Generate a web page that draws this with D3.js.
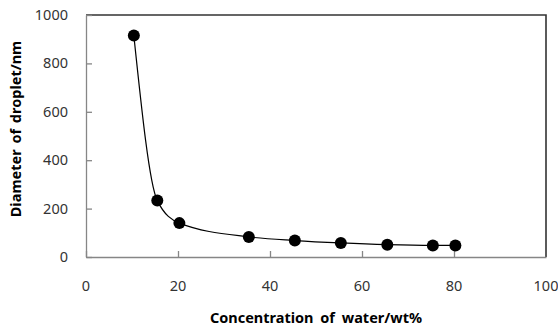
<!DOCTYPE html>
<html>
<head>
<meta charset="utf-8">
<script src="https://cdn.jsdelivr.net/npm/d3@7"></script>
<style>
  html, body { margin: 0; padding: 0; background: #fff; }
  svg { display: block; }
  .tick-label { font-family: "Noto Sans", sans-serif; font-size: 14.5px; fill: #333; }
  .axis-title { font-family: "Noto Sans", sans-serif; font-size: 14.5px; font-weight: bold; fill: #000; }
</style>
</head>
<body>
<svg id="chart" width="558" height="327"></svg>
<script>
// water concentration (wt%) vs droplet diameter (nm)
const waterConc = [10.4, 15.5, 20.3, 35.4, 45.4, 55.4, 65.5, 75.4, 80.3];
const diameter = [915, 233, 140, 83, 68, 58, 51, 48, 48];
const xTicks = [0, 20, 40, 60, 80, 100];
const yTicks = [0, 200, 400, 600, 800, 1000];

const plot = { left: 86, right: 546, top: 15, bottom: 257 };

const svg = d3.select('#chart');

const x = d3.scaleLinear().domain([0, 100]).range([plot.left, plot.right]);
const y = d3.scaleLinear().domain([0, 1000]).range([plot.bottom, plot.top]);

// plot area border (top + right visible, dark)
svg.append('path')
  .attr('d', `M${plot.left},${plot.top}H${plot.right}V${plot.bottom}`)
  .attr('fill', 'none').attr('stroke', '#333').attr('stroke-width', 1.6);

// axes: gray, ticks pointing into plot
const xAxis = svg.append('g')
  .attr('transform', `translate(0,${plot.bottom})`)
  .call(d3.axisBottom(x).tickValues(xTicks).tickSize(-6).tickSizeOuter(0).tickFormat(''));
const yAxis = svg.append('g')
  .attr('transform', `translate(${plot.left},0)`)
  .call(d3.axisLeft(y).tickValues(yTicks).tickSize(-6).tickSizeOuter(0).tickFormat(''));
[xAxis, yAxis].forEach((g) => {
  g.select('.domain').attr('stroke', '#868686').attr('stroke-width', 1.3);
  g.selectAll('.tick line').attr('stroke', '#868686').attr('stroke-width', 1.3);
});
// the 100 tick sits on the right border — hide it
xAxis.selectAll('.tick').filter((d) => d === 100).select('line').remove();

// tick labels
svg.append('g').selectAll('text')
  .data(xTicks).join('text')
  .attr('class', 'tick-label')
  .attr('x', (d) => x(d)).attr('y', 291)
  .attr('text-anchor', 'middle')
  .text((d) => d);
svg.append('g').selectAll('text')
  .data(yTicks).join('text')
  .attr('class', 'tick-label')
  .attr('x', 68).attr('y', (d) => y(d))
  .attr('dy', '0.35em')
  .attr('text-anchor', 'end')
  .text((d) => d);

// smoothed line through the points, no overshoot
const pts = waterConc.map((c, i) => [c, diameter[i]]);
svg.append('path')
  .datum(pts)
  .attr('fill', 'none').attr('stroke', '#000').attr('stroke-width', 1.2)
  .attr('d', d3.line().x((d) => x(d[0])).y((d) => y(d[1])).curve(d3.curveMonotoneX));

svg.append('g').selectAll('circle')
  .data(pts).join('circle')
  .attr('cx', (d) => x(d[0])).attr('cy', (d) => y(d[1]))
  .attr('r', 6).attr('fill', '#000');

// axis titles
svg.append('text')
  .attr('class', 'axis-title')
  .attr('x', (plot.left + plot.right) / 2).attr('y', 323)
  .attr('text-anchor', 'middle')
  .attr('word-spacing', '3px')
  .text('Concentration of water/wt%');
svg.append('text')
  .attr('class', 'axis-title')
  .attr('transform', `translate(21,129) rotate(-90)`)
  .attr('text-anchor', 'middle')
  .attr('word-spacing', '2px')
  .text('Diameter of droplet/nm');
</script>
</body>
</html>
